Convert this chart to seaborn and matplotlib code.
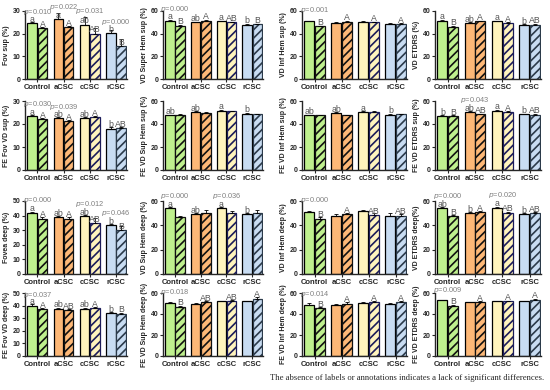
import matplotlib
matplotlib.use("Agg")
import matplotlib.pyplot as plt
import pandas as pd
import seaborn as sns

groups = ["Control", "aCSC", "cCSC", "rCSC"]

ylabels = [
    "Fov sup (%)", "VD Super Hem sup (%)", "VD Inf Hem sup (%)", "VD ETDRS (%)",
    "FE Fov VD sup (%)", "FE VD Sup Hem sup (%)", "FE VD Inf Hem sup (%)", "FE VD ETDRS sup (%)",
    "Fovea deep (%)", "VD Sup Hem deep (%)", "VD Inf Hem deep (%)", "VD ETDRS deep(%)",
    "FE Fov VD deep (%)", "FE VD Sup Hem deep (%)", "FE VD Inf Hem deep (%)", "FE VD ETDRS deep (%)",
]
ymax = [30, 60, 60, 60, 30, 60, 60, 60, 50, 60, 60, 60, 50, 60, 60, 60]
ystep = [10, 20, 20, 20, 10, 20, 20, 20, 10, 20, 20, 20, 10, 20, 20, 20]

# solid bars (baseline) and hatched bars (follow-up), order Control, aCSC, cCSC, rCSC
solid_means = [
    [24.5, 26.3, 24.0, 20.2], [51.5, 50.0, 51.0, 48.0], [51.0, 49.5, 50.5, 48.5], [51.5, 49.5, 51.0, 47.5],
    [23.5, 22.5, 22.5, 18.0], [47.5, 50.5, 51.5, 49.0], [47.5, 49.5, 50.5, 48.0], [47.0, 50.5, 51.5, 48.5],
    [42.0, 39.0, 39.5, 33.5], [54.0, 49.0, 54.0, 49.0], [51.0, 48.0, 51.5, 47.5], [54.0, 50.0, 54.5, 49.0],
    [40.0, 37.5, 37.5, 34.0], [50.5, 50.0, 52.0, 52.0], [49.0, 49.0, 50.5, 50.0], [53.0, 51.0, 52.0, 52.0],
]
hatch_means = [
    [22.5, 22.8, 20.0, 14.5], [47.0, 51.5, 50.0, 48.3], [46.5, 50.5, 50.0, 48.5], [46.0, 51.0, 49.5, 48.0],
    [22.0, 21.2, 23.0, 18.3], [48.0, 49.5, 51.0, 48.5], [47.5, 47.5, 50.5, 48.5], [47.0, 48.5, 50.5, 48.0],
    [38.0, 38.0, 35.0, 30.0], [47.0, 50.5, 50.5, 50.5], [45.5, 49.0, 48.5, 48.0], [47.5, 51.0, 50.5, 50.0],
    [37.0, 36.5, 38.0, 33.5], [47.0, 51.5, 52.0, 54.5], [45.5, 50.0, 51.0, 51.5], [48.0, 51.5, 52.0, 53.5],
]
solid_err = [
    [0.5, 3.0, 3.5, 1.2], [0.6, 0.6, 0.6, 0.6], [0.6, 0.8, 0.6, 0.6], [0.6, 0.6, 0.6, 0.6],
    [0.5, 0.5, 0.5, 0.5], [0.6, 0.6, 0.6, 0.6], [0.6, 0.6, 0.6, 0.6], [0.6, 0.6, 0.6, 0.6],
    [0.8, 0.8, 0.8, 0.8], [0.8, 0.8, 0.8, 0.8], [1.0, 1.5, 1.2, 2.5], [0.8, 0.8, 0.8, 0.8],
    [1.5, 0.8, 0.8, 0.8], [0.8, 0.8, 0.8, 0.8], [1.5, 0.8, 0.8, 0.8], [0.8, 0.8, 0.8, 0.8],
]
hatch_err = [
    [0.5, 0.5, 2.5, 3.2], [0.6, 0.6, 0.6, 0.6], [0.6, 0.6, 0.6, 0.6], [0.6, 0.6, 0.6, 0.6],
    [0.5, 0.5, 0.5, 0.5], [0.6, 0.6, 0.6, 0.6], [0.6, 0.6, 0.6, 0.6], [0.6, 0.6, 0.6, 0.6],
    [0.8, 0.8, 3.5, 3.0], [1.0, 2.0, 1.2, 2.0], [1.0, 1.2, 1.5, 1.5], [0.8, 0.8, 0.8, 0.8],
    [1.0, 0.8, 0.8, 0.8], [1.0, 1.2, 1.0, 2.0], [1.0, 1.0, 1.0, 1.2], [0.8, 0.8, 0.8, 0.8],
]
solid_letters = [
    ["a", "a", "ab", "b"], ["a", "ab", "a", "b"], ["", "", "", ""], ["a", "ab", "a", "b"],
    ["a", "ab", "ab", "b"], ["ab", "ab", "a", "b"], ["ab", "ab", "a", "b"], ["b", "ab", "a", "b"],
    ["a", "ab", "ab", "b"], ["a", "ab", "a", "b"], ["", "", "", ""], ["ab", "b", "a", "b"],
    ["a", "ab", "ab", "b"], ["", "", "", ""], ["", "", "", ""], ["", "", "", ""],
]
hatch_letters = [
    ["A", "A", "AB", "B"], ["B", "A", "AB", "B"], ["B", "A", "A", "A"], ["B", "A", "A", "AB"],
    ["A", "A", "A", "AB"], ["", "", "", ""], ["", "", "", ""], ["B", "AB", "A", "AB"],
    ["A", "A", "AB", "B"], ["", "", "", ""], ["B", "A", "AB", "AB"], ["B", "A", "AB", "AB"],
    ["A", "AB", "A", "B"], ["B", "AB", "AB", "A"], ["B", "A", "A", "A"], ["B", "A", "A", "A"],
]
p_values = [
    ["0.010", "0.022", "0.031", "0.000"], ["0.000", "", "", ""], ["0.001", "", "", ""], ["", "", "", ""],
    ["0.030", "0.039", "", ""], ["", "", "", ""], ["", "", "", ""], ["", "0.043", "", ""],
    ["0.000", "", "0.012", "0.046"], ["0.000", "", "0.036", ""], ["0.000", "", "", ""], ["0.000", "", "0.020", ""],
    ["0.037", "", "", ""], ["0.018", "", "", ""], ["0.014", "", "", ""], ["0.009", "", "", ""],
]

solid_colors = ["#bff08e", "#fdb877", "#fff4bd", "#c8dcf2"]
hatch_edge = ["#111111", "#111111", "#1c1c5a", "#2b3a4a"]

sns.set_style("ticks")
plt.rcParams["font.family"] = ["Liberation Sans", "DejaVu Sans"]
plt.rcParams["hatch.linewidth"] = 1.2
plt.rcParams["axes.linewidth"] = 1.0

fig = plt.figure(figsize=(5.5, 3.9), dpi=100)

col_left = [25, 163, 302, 435]
col_width = [102, 100, 105, 106]
row_top = [11, 101, 201, 293]
row_bottom = [79, 170, 274, 356]

for i in range(16):
    r, c = divmod(i, 4)
    ax = fig.add_axes([col_left[c] / 550, 1 - row_bottom[r] / 390,
                       col_width[c] / 550, (row_bottom[r] - row_top[r]) / 390])
    df = pd.DataFrame({
        "group": groups * 2,
        "visit": ["base"] * 4 + ["follow"] * 4,
        "value": solid_means[i] + hatch_means[i],
    })
    sns.barplot(data=df, x="group", y="value", hue="visit", ax=ax, width=0.78, gap=0.06,
                errorbar=None, legend=False, linewidth=0.9, edgecolor="black")
    solid_bars, hatch_bars = ax.containers[0], ax.containers[1]
    for j, bar in enumerate(solid_bars):
        bar.set_facecolor(solid_colors[j])
        bar.set_edgecolor("black")
    for j, bar in enumerate(hatch_bars):
        bar.set_facecolor(solid_colors[j])
        bar.set_edgecolor(hatch_edge[j])
        bar.set_hatch("////")

    for bars, means, errs, letters in [(solid_bars, solid_means[i], solid_err[i], solid_letters[i]),
                                       (hatch_bars, hatch_means[i], hatch_err[i], hatch_letters[i])]:
        xs = [b.get_x() + b.get_width() / 2 for b in bars]
        ax.errorbar(xs, means, yerr=[[0] * 4, errs], fmt="none", ecolor="black",
                    elinewidth=0.6, capsize=1.6, capthick=0.6, clip_on=False)
        for x, m, lab in zip(xs, means, letters):
            if lab:
                ax.annotate(lab, (x, m), xytext=(0, 1.0), textcoords="offset points",
                            ha="center", va="baseline", fontsize=6.3, color="#555555",
                            annotation_clip=False)

    for j in range(4):
        if p_values[i][j]:
            top_bar = max(solid_means[i][j], hatch_means[i][j])
            top_err = max(solid_means[i][j] + solid_err[i][j], hatch_means[i][j] + hatch_err[i][j])
            py = max(top_bar + 0.14 * ymax[i], top_err + 0.05 * ymax[i])
            ax.text(j, py, r"$\it{p}$=" + p_values[i][j], ha="center", va="baseline",
                    fontsize=5.3, color="#808080", clip_on=False)

    ax.set_xlim(-0.47, 3.42)
    ax.set_ylim(0, ymax[i])
    ax.set_yticks(range(0, ymax[i] + 1, ystep[i]))
    ax.set_xlabel("")
    ax.set_ylabel(ylabels[i], fontsize=5, fontweight="bold", labelpad=1.5)
    ax.tick_params(axis="both", length=2, width=0.8, pad=1.5)
    ax.tick_params(axis="x", labelsize=5.5)
    ax.tick_params(axis="y", labelsize=5)
    for lab in ax.get_xticklabels() + ax.get_yticklabels():
        lab.set_fontweight("bold")
    sns.despine(ax=ax)

fig.text(0.99, 0.02, "The absence of labels or annotations indicates a lack of significant differences.",
         ha="right", va="bottom", fontsize=6.2, family=["Liberation Serif", "DejaVu Serif"])

fig.savefig("out.png", dpi=100)
